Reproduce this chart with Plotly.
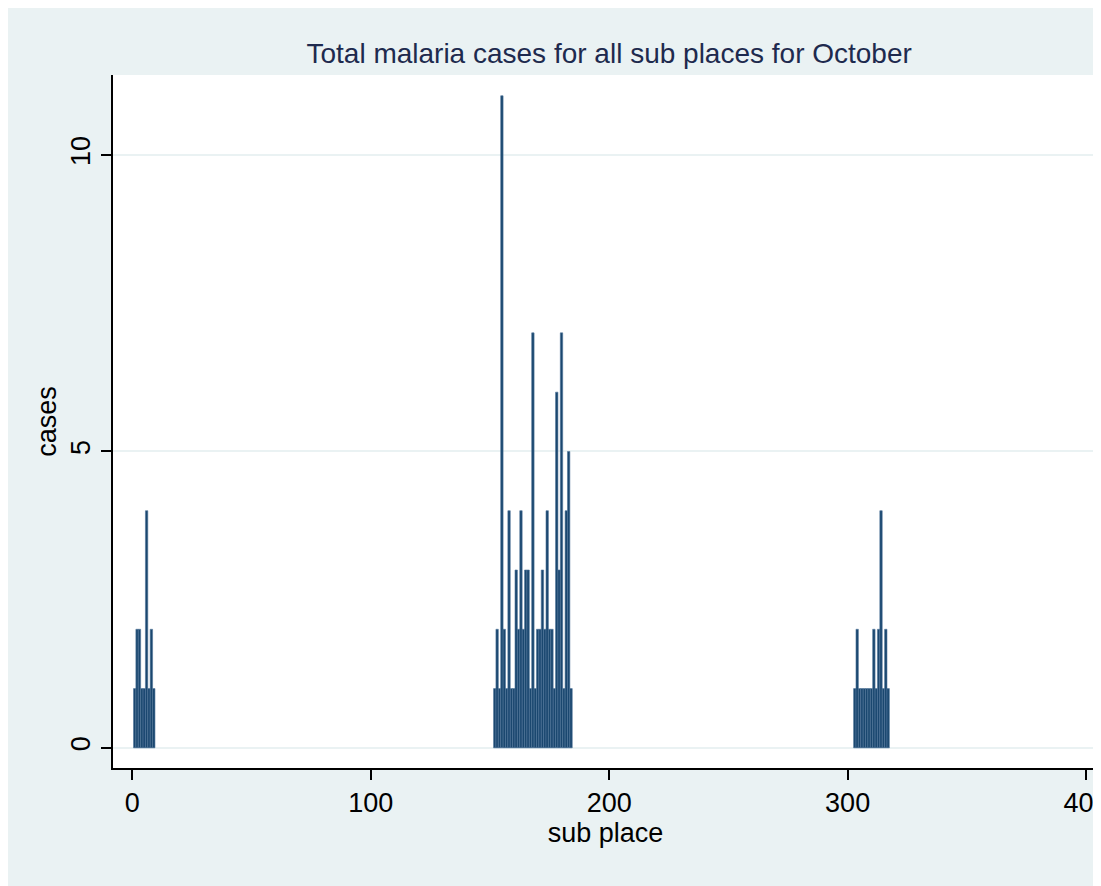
import plotly.graph_objects as go

# sub place ids and case counts (three clusters of non-zero sub places)
left_places = list(range(1, 10))
left_cases = [1, 2, 2, 1, 1, 4, 1, 2, 1]

mid_places = list(range(152, 185))
mid_cases = [1, 2, 1, 11, 2, 1, 4, 1, 1, 3, 2, 4, 2, 3, 3, 1, 7, 1,
             2, 2, 3, 2, 4, 2, 2, 1, 6, 3, 7, 1, 4, 5, 1]

right_places = list(range(303, 318))
right_cases = [1, 2, 1, 1, 1, 1, 1, 1, 2, 1, 2, 4, 1, 2, 1]

x_ticks = [0, 100, 200, 300, 400]
y_ticks = [0, 5, 10]

places = left_places + mid_places + right_places
cases = left_cases + mid_cases + right_cases

bg = "#EAF2F3"
navy = "#1A476F"
font = "Liberation Sans, Arial, sans-serif"

fig = go.Figure()
fig.add_trace(go.Bar(
    x=places, y=cases, width=1,
    marker=dict(color=navy, line=dict(color="#4F7499", width=0.6)),
))

# page body has an 8px margin, so the figure is a little smaller than the window
fig.update_layout(
    width=1093, height=878,
    paper_bgcolor=bg, plot_bgcolor="white",
    margin=dict(l=105, r=3, t=67, b=118, autoexpand=False),
    showlegend=False,
    title=dict(text="Total malaria cases for all sub places for October",
               x=0.55, xanchor="center", y=0.949, yanchor="middle",
               font=dict(family=font, size=28, color="#1E2A4E")),
    font=dict(family=font, color="black"),
)

fig.update_xaxes(
    range=[-8.1, 405], tickvals=x_ticks, ticks="outside", ticklen=10,
    tickwidth=1.5, tickcolor="black", showline=True, linecolor="black",
    linewidth=2, showgrid=False, zeroline=False, ticklabeloverflow="allow",
    automargin=False, tickfont=dict(size=27, family=font),
    title=dict(text="sub place", font=dict(size=27, family=font), standoff=0),
)
fig.update_yaxes(
    range=[-0.34, 11.35], tickvals=y_ticks, ticks="outside", ticklen=10,
    tickwidth=1.5, tickcolor="black", showline=True, linecolor="black",
    linewidth=2, showgrid=True, gridcolor=bg, gridwidth=2, zeroline=False,
    automargin=False, tickangle=-90, tickfont=dict(size=27, family=font),
    title=dict(text="cases", font=dict(size=27, family=font), standoff=2),
)

fig.write_html("out.html")
